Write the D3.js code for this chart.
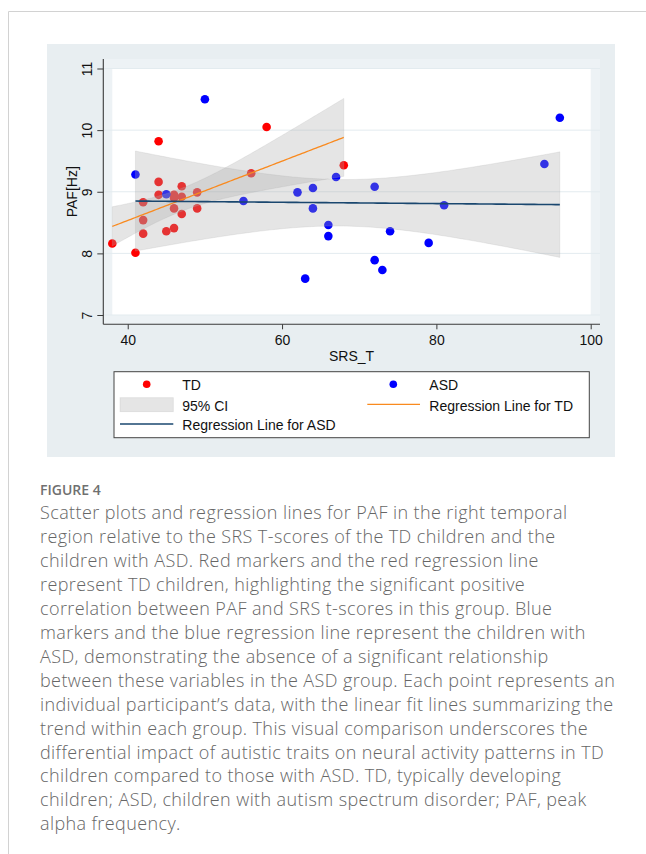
<!DOCTYPE html>
<html><head><meta charset="utf-8">
<script src="https://cdn.jsdelivr.net/npm/d3@7"></script>
<style>body{margin:0;background:#fff;} svg{display:block;}</style>
</head><body>
<svg id="c" width="646" height="854"></svg>
<script>
// ---- data ----
const tdX = [38, 41, 42, 42, 42, 44, 44, 44, 45, 46, 46, 46, 46, 47, 47, 47, 49, 49, 56, 58, 68];
const tdY = [8.16, 8.01, 8.83, 8.54, 8.32, 9.82, 9.16, 8.95, 8.36, 8.95, 8.90, 8.73, 8.41, 9.09, 8.92, 8.64, 8.99, 8.73, 9.30, 10.05, 9.43];
const asdX = [41, 45, 50, 55, 62, 63, 64, 64, 66, 66, 67, 72, 72, 73, 74, 79, 81, 94, 96];
const asdY = [9.28, 8.96, 10.50, 8.85, 8.99, 7.59, 9.06, 8.73, 8.46, 8.28, 9.24, 9.08, 7.89, 7.73, 8.36, 8.17, 8.78, 9.45, 10.20];
const xTicks = [40, 60, 80, 100];
const yTicks = [7, 8, 9, 10, 11];
const xTitle = "SRS_T";
const yTitle = "PAF[Hz]";
const legendLabels = ["TD", "ASD", "95% CI", "Regression Line for TD", "Regression Line for ASD"];
const figTitle = "FIGURE 4";
const captionLines = [
  "Scatter plots and regression lines for PAF in the right temporal",
  "region relative to the SRS T-scores of the TD children and the",
  "children with ASD. Red markers and the red regression line",
  "represent TD children, highlighting the significant positive",
  "correlation between PAF and SRS t-scores in this group. Blue",
  "markers and the blue regression line represent the children with",
  "ASD, demonstrating the absence of a significant relationship",
  "between these variables in the ASD group. Each point represents an",
  "individual participant\u2019s data, with the linear fit lines summarizing the",
  "trend within each group. This visual comparison underscores the",
  "differential impact of autistic traits on neural activity patterns in TD",
  "children compared to those with ASD. TD, typically developing",
  "children; ASD, children with autism spectrum disorder; PAF, peak",
  "alpha frequency."
];

// ---- colours ----
const RED = "#ff0000", BLUE = "#0000ff", ORANGE = "#f98a1f", NAVY = "#1a476f";
const BAND = "#a8a8a8", BAND_OP = 0.3;

const svg = d3.select("#c");
const FONT = "'Liberation Sans', Arial, Helvetica, sans-serif";

// page frame
svg.append("line").attr("x1", 8.5).attr("x2", 8.5).attr("y1", 11.5).attr("y2", 854).attr("stroke", "#d2d2d2");
svg.append("line").attr("x1", 8.5).attr("x2", 646).attr("y1", 11.5).attr("y2", 11.5).attr("stroke", "#d2d2d2");

// graph region
svg.append("rect").attr("x", 47).attr("y", 44).attr("width", 568).attr("height", 413).attr("fill", "#e8eef1");

const x = d3.scaleLinear().domain([38, 100]).range([112.3, 590.7]);
const y = d3.scaleLinear().domain([7, 11]).range([315, 68.5]);
const axX = 103.3, axY = 324.3, axTop = 59, axRight = 600;

// plot region margin + inner
svg.append("rect").attr("x", axX).attr("y", axTop).attr("width", axRight - axX).attr("height", axY - axTop).attr("fill", "#edf2f5");
svg.append("rect").attr("x", x(38)).attr("y", y(11)).attr("width", x(100) - x(38)).attr("height", y(7) - y(11)).attr("fill", "#ffffff");

// grid
svg.append("g").selectAll("line").data(yTicks).join("line")
  .attr("x1", axX).attr("x2", axRight).attr("y1", d => y(d)).attr("y2", d => y(d))
  .attr("stroke", "#e3ebef").attr("stroke-width", 1);

// regression with CI
function tq975(df) {
  const z = 1.959964;
  return z + (Math.pow(z,3) + z) / (4*df) + (5*Math.pow(z,5) + 16*Math.pow(z,3) + 3*z) / (96*df*df)
    + (3*Math.pow(z,7) + 19*Math.pow(z,5) + 17*Math.pow(z,3) - 15*z) / (384*df*df*df);
}
function fit(xs, ys) {
  const n = xs.length, mx = d3.mean(xs), my = d3.mean(ys);
  let sxx = 0, sxy = 0;
  xs.forEach((xi, i) => { sxx += (xi - mx) ** 2; sxy += (xi - mx) * (ys[i] - my); });
  const b = sxy / sxx, a = my - b * mx;
  let sse = 0; xs.forEach((xi, i) => { sse += (ys[i] - a - b * xi) ** 2; });
  const s = Math.sqrt(sse / (n - 2)), t = tq975(n - 2);
  const [lo, hi] = d3.extent(xs);
  return d3.range(0, 101).map(k => {
    const xv = lo + (hi - lo) * k / 100;
    const yh = a + b * xv;
    const h = t * s * Math.sqrt(1 / n + (xv - mx) ** 2 / sxx);
    return { x: xv, y: yh, lo: yh - h, hi: yh + h };
  });
}
const tdFit = fit(tdX, tdY), asdFit = fit(asdX, asdY);

// points
const gp = svg.append("g");
gp.selectAll(".td").data(tdX.map((v, i) => [v, tdY[i]])).join("circle")
  .attr("cx", d => x(d[0])).attr("cy", d => y(d[1])).attr("r", 4.3).attr("fill", RED);
gp.selectAll(".asd").data(asdX.map((v, i) => [v, asdY[i]])).join("circle")
  .attr("cx", d => x(d[0])).attr("cy", d => y(d[1])).attr("r", 4.3).attr("fill", BLUE);

// bands
const area = d3.area().x(d => x(d.x)).y0(d => y(d.lo)).y1(d => y(d.hi));
[tdFit, asdFit].forEach(f => {
  svg.append("path").attr("d", area(f)).attr("fill", BAND).attr("fill-opacity", BAND_OP)
    .attr("stroke", BAND).attr("stroke-opacity", 0.25).attr("stroke-width", 0.8);
});
// lines
const line = d3.line().x(d => x(d.x)).y(d => y(d.y));
svg.append("path").attr("d", line(tdFit)).attr("fill", "none").attr("stroke", ORANGE).attr("stroke-width", 1.3);
svg.append("path").attr("d", line(asdFit)).attr("fill", "none").attr("stroke", NAVY).attr("stroke-width", 1.6);

// axes
const AX = "#3a3a3a";
const gy = svg.append("g").attr("transform", `translate(${axX},0)`)
  .call(d3.axisLeft(y).tickValues(yTicks).tickSize(6).tickFormat(d3.format("d")));
gy.select(".domain").remove();
gy.selectAll("line").attr("stroke", AX);
gy.selectAll("text").attr("x", null).attr("dy", null).attr("y", 0)
  .attr("transform", "translate(-11.6,0) rotate(-90)").attr("text-anchor", "middle")
  .style("font-family", FONT).style("font-size", "14px").attr("fill", "#111");

const gx = svg.append("g").attr("transform", `translate(0,${axY})`)
  .call(d3.axisBottom(x).tickValues(xTicks).tickSize(5).tickFormat(d3.format("d")));
gx.select(".domain").remove();
gx.selectAll("line").attr("stroke", AX);
gx.selectAll("text").attr("y", 10.5).style("font-family", FONT).style("font-size", "14px").attr("fill", "#111");

svg.append("line").attr("x1", axX).attr("x2", axX).attr("y1", axTop).attr("y2", axY).attr("stroke", AX).attr("stroke-width", 1.1);
svg.append("line").attr("x1", axX).attr("x2", axRight).attr("y1", axY).attr("y2", axY).attr("stroke", AX).attr("stroke-width", 1.1);

// axis titles
svg.append("text").attr("x", (x(38) + x(100)) / 2).attr("y", 361).attr("text-anchor", "middle")
  .style("font-family", FONT).style("font-size", "14px").attr("fill", "#111").text(xTitle);
svg.append("text").attr("transform", `translate(76.5,${(y(7) + y(11)) / 2}) rotate(-90)`).attr("text-anchor", "middle")
  .style("font-family", FONT).style("font-size", "14px").attr("fill", "#111").text(yTitle);

// legend
const lg = svg.append("g");
lg.append("rect").attr("x", 114).attr("y", 371.7).attr("width", 475.3).attr("height", 66).attr("fill", "#fff")
  .attr("stroke", "#444").attr("stroke-width", 1);
lg.append("circle").attr("cx", 146.7).attr("cy", 384.3).attr("r", 3.8).attr("fill", RED);
lg.append("circle").attr("cx", 393.3).attr("cy", 384.3).attr("r", 3.8).attr("fill", BLUE);
lg.append("rect").attr("x", 120).attr("y", 397.7).attr("width", 53.3).attr("height", 14).attr("fill", BAND).attr("fill-opacity", BAND_OP)
  .attr("stroke", BAND).attr("stroke-opacity", 0.25).attr("stroke-width", 0.8);
lg.append("line").attr("x1", 367.3).attr("x2", 420).attr("y1", 404.3).attr("y2", 404.3).attr("stroke", ORANGE).attr("stroke-width", 1.3);
lg.append("line").attr("x1", 120).attr("x2", 173.3).attr("y1", 424).attr("y2", 424).attr("stroke", NAVY).attr("stroke-width", 1.6);
const legPos = [[182.3, 390], [429.3, 390], [182.3, 410.5], [429.3, 410.5], [182.3, 430]];
legendLabels.forEach((t, i) => {
  lg.append("text").attr("x", legPos[i][0]).attr("y", legPos[i][1])
    .style("font-family", FONT).style("font-size", "14px").attr("fill", "#111").text(t);
});

// caption
const CF = "'Open Sans', 'Noto Sans', sans-serif";
svg.append("text").attr("x", 40).attr("y", 495).style("font-family", CF).style("font-size", "14px")
  .style("font-weight", 600).attr("fill", "#707070").text(figTitle);
const cap = svg.append("g");
captionLines.forEach((t, i) => {
  cap.append("text").attr("x", 40).attr("y", 519 + i * 23.95)
    .style("font-family", CF).style("font-size", "18px").style("font-weight", 300)
    .style("letter-spacing", "0.4px").attr("fill", "#666666").text(t);
});
</script>
</body></html>
